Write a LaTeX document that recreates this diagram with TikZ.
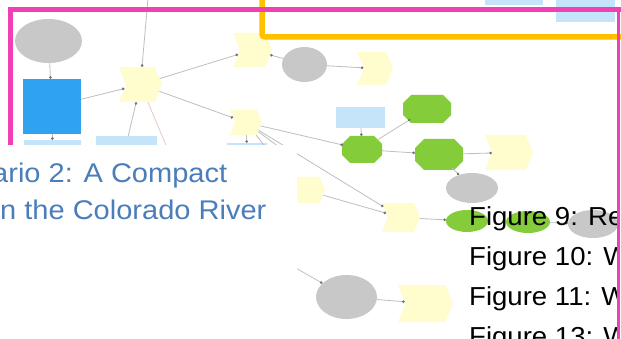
\documentclass[tikz,border=0pt]{standalone}
\usepackage{fontspec}
\setmainfont{Liberation Sans}
\usetikzlibrary{shapes.symbols,shapes.geometric,arrows.meta}
\definecolor{cpink}{RGB}{240,64,180}
\definecolor{corange}{RGB}{255,192,0}
\definecolor{cgray}{RGB}{200,200,200}
\definecolor{cblue}{RGB}{47,163,240}
\definecolor{clblue}{RGB}{197,227,249}
\definecolor{cgreen}{RGB}{132,204,58}
\definecolor{cyellow}{RGB}{255,252,205}
\definecolor{ctext}{RGB}{74,126,187}
\definecolor{cline}{RGB}{190,190,190}
\definecolor{cbeige}{RGB}{225,205,195}
\definecolor{cdot}{RGB}{115,115,115}
% octagon node: name, x, y, width, height, chamfer
\newcommand\myoctnode[6]{%
  \fill[cgreen, shift={(#2,#3)}]
    ({-#4/2+#6},{-#5/2}) -- ({#4/2-#6},{-#5/2}) -- ({#4/2},{-#5/2+#6}) --
    ({#4/2},{#5/2-#6}) -- ({#4/2-#6},{#5/2}) -- ({-#4/2+#6},{#5/2}) --
    ({-#4/2},{#5/2-#6}) -- ({-#4/2},{-#5/2+#6}) -- cycle;
  \node[ellipse, inner sep=0pt, minimum width=#4pt, minimum height=#5pt] (#1) at (#2,#3) {};%
}
\begin{document}
\begin{tikzpicture}[x=1pt,y=-1pt,
  graynode/.style={ellipse, fill=cgray, inner sep=0pt},
  greenell/.style={ellipse, fill=cgreen, inner sep=0pt},
  tool/.style={signal, signal from=west, signal to=east, signal pointer angle=135, fill=cyellow, inner sep=0pt},
  datanode/.style={rectangle, fill=clblue, inner sep=0pt},
  conn/.style={draw=cline, line width=0.8pt, -{Circle[length=2.6pt, fill=cdot, color=cdot]}},
  plainconn/.style={draw=cline, line width=0.8pt},
  bluetext/.style={anchor=base west, inner sep=0pt, text=ctext, font=\fontsize{27pt}{32pt}\selectfont},
  blacktext/.style={anchor=base west, inner sep=0pt, text=black, font=\fontsize{26pt}{31pt}\selectfont}
]
\useasboundingbox (0,0) rectangle (621,339);
\fill[white] (0,0) rectangle (621,339);

% nodes
\node[graynode, minimum width=67pt, minimum height=44pt] (g1) at (48.5,41) {};
\node[rectangle, fill=cblue, inner sep=0pt, minimum width=58pt, minimum height=55pt] (b1) at (52,106.5) {};
\node[datanode, minimum width=57pt, minimum height=12pt] (lb1) at (52.5,146) {};
\node[datanode, minimum width=61pt, minimum height=14pt] (lb2) at (126.5,143) {};
\node[datanode, minimum width=40pt, minimum height=10pt] (lb3) at (247,148) {};
\node[tool, minimum width=43pt, minimum height=35pt] (y1) at (140.5,84.5) {};
\node[tool, minimum width=39pt, minimum height=34pt] (y2) at (252.5,50) {};
\node[graynode, minimum width=45pt, minimum height=35pt] (g2) at (304.5,64.5) {};
\node[tool, minimum width=36pt, minimum height=33pt] (y4) at (375,68.5) {};
\node[tool, minimum width=32pt, minimum height=25pt] (y3) at (246,122.5) {};
\node[datanode, minimum width=49pt, minimum height=21pt] (lb4) at (360.5,117.5) {};
\myoctnode{gr1}{427}{109}{48}{28}{8}
\myoctnode{gr2}{362}{149.5}{40}{27}{8}
\myoctnode{gr3}{439}{154.5}{48}{31}{9}
\node[tool, minimum width=48pt, minimum height=35pt] (y6) at (509,152.5) {};
\node[graynode, minimum width=52pt, minimum height=30pt] (g3) at (472,188) {};
\node[tool, minimum width=40pt, minimum height=26pt] (y5) at (305,190) {};
\node[tool, minimum width=38pt, minimum height=29pt] (y7) at (401,217.5) {};
\node[greenell, minimum width=42pt, minimum height=22pt] (ge1) at (467,221) {};
\node[greenell, minimum width=44pt, minimum height=22pt] (ge2) at (528,222) {};
\node[graynode, minimum width=50pt, minimum height=28pt] (g4) at (593,224) {};
\node[graynode, minimum width=61pt, minimum height=44pt] (g5) at (346.5,297) {};
\node[tool, minimum width=55pt, minimum height=37pt] (y8) at (425.5,303.5) {};
\node[datanode, minimum width=58pt, minimum height=12pt] (lb5) at (514,-1) {};
\node[datanode, minimum width=59pt, minimum height=27pt] (lb6) at (585.5,8.5) {};

\coordinate (top) at (148,-2);
\coordinate (c1) at (168,150);
\coordinate (c2) at (268,150);
\coordinate (c3) at (283,150);
\coordinate (c4) at (280,259);

% connectors
\draw[conn] (top) -- (y1);
\draw[conn] (g1) -- (b1);
\draw[conn] (b1) -- (y1);
\draw[conn] (b1) -- (lb1);
\draw[conn] (lb2) -- (y1);
\draw[conn] (y1) -- (y2);
\draw[conn] (y1) -- (y3);
\draw[plainconn, draw=cbeige] (y1) -- (c1);
\draw[conn] (g2) -- (y2);
\draw[conn] (g2) -- (y4);
\draw[conn] (y3) -- (lb3);
\draw[plainconn] (y3) -- (c2);
\draw[plainconn] (y3) -- (c3);
\draw[conn] (y3) -- (gr2);
\draw[conn] (y3) -- (y7);
\draw[conn] (y5) -- (y7);
\draw[conn] (lb4) -- (gr2);
\draw[conn] (gr2) -- (gr1);
\draw[conn] (gr2) -- (gr3);
\draw[conn] (gr3) -- (y6);
\draw[conn] (gr3) -- (g3);
\draw[conn] (y7) -- (ge1);
\draw[conn] (ge2) -- (g4);
\draw[conn] (c4) -- (g5);
\draw[conn] (g5) -- (y8);

% frames
\draw[corange, line width=5.5pt, rounded corners=3pt] (262,-5) -- (262,37) -- (625,37);
\draw[cpink, line width=5pt] (10,150) -- (10,10) -- (625,10);

% white text panel
\fill[white] (-2,145) rectangle (297,345);
\node[bluetext] (t1) at (-8,183) {\scalebox{1.075}[1]{ario 2: A Compact}};
\node[bluetext] (t2) at (0,220) {\scalebox{1.075}[1]{n the Colorado River}};

\begin{scope}
\clip (400,190) rectangle (617,345);
\node[blacktext] (f1) at (469,225.5) {\scalebox{1.06}[1]{Figure 9: Re}};
\node[blacktext] (f2) at (469,265.5) {\scalebox{1.06}[1]{Figure 10: W}};
\node[blacktext] (f3) at (469,305.5) {\scalebox{1.06}[1]{Figure 11: W}};
\node[blacktext] (f4) at (469,345.5) {\scalebox{1.06}[1]{Figure 13: W}};
\end{scope}
\draw[cpink, line width=3pt] (618.5,10) -- (618.5,345);
\end{tikzpicture}
\end{document}
